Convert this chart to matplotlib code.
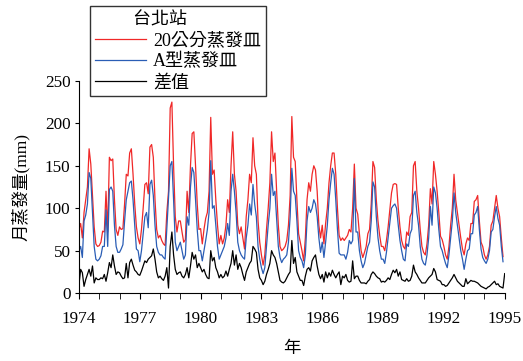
import numpy as np
import matplotlib
matplotlib.use("Agg")
import matplotlib.pyplot as plt

# monthly evaporation (mm), Jan 1974 .. Dec 1994, one row per year
pan20 = [
    75, 82, 65, 95, 110, 125, 170, 152, 115, 78, 58, 55,      # 1974
    56, 60, 73, 72, 120, 72, 160, 156, 158, 110, 75, 68,      # 1975
    78, 75, 76, 105, 140, 138, 165, 170, 140, 105, 78, 65,    # 1976
    58, 75, 100, 128, 130, 117, 172, 175, 160, 110, 75, 65,   # 1977
    68, 62, 58, 56, 95, 120, 218, 225, 150, 90, 72, 85,       # 1978
    85, 72, 60, 63, 120, 95, 150, 188, 190, 150, 105, 75,     # 1979
    76, 58, 75, 88, 95, 120, 207, 140, 145, 110, 80, 58,      # 1980
    68, 58, 65, 80, 110, 95, 150, 190, 140, 120, 80, 70,      # 1981
    78, 65, 52, 90, 110, 140, 130, 183, 150, 140, 85, 60,     # 1982
    45, 33, 45, 75, 100, 130, 190, 155, 165, 120, 80, 55,     # 1983
    50, 52, 55, 62, 80, 115, 208, 160, 155, 110, 70, 60,      # 1984
    50, 38, 65, 110, 130, 120, 140, 150, 145, 120, 80, 65,    # 1985
    80, 58, 82, 100, 130, 150, 165, 165, 140, 100, 68, 62,    # 1986
    65, 62, 65, 68, 75, 72, 100, 152, 100, 93, 70, 50,        # 1987
    42, 48, 55, 70, 75, 105, 155, 148, 110, 85, 68, 55,       # 1988
    55, 50, 62, 78, 98, 118, 128, 129, 128, 100, 78, 62,      # 1989
    55, 52, 72, 68, 90, 95, 150, 155, 120, 100, 75, 55,       # 1990
    48, 45, 58, 80, 123, 105, 155, 140, 120, 95, 67, 63,      # 1991
    55, 45, 40, 55, 80, 100, 140, 110, 95, 80, 65, 52,        # 1992
    45, 58, 65, 62, 82, 82, 108, 110, 115, 85, 60, 55,        # 1993
    45, 40, 45, 55, 80, 85, 100, 115, 100, 90, 65, 43,        # 1994
]

panA = [
    50, 55, 42, 85, 92, 105, 142, 135, 95, 55, 40, 38,
    40, 44, 55, 55, 98, 55, 122, 125, 120, 80, 55, 48,
    48, 52, 57, 85, 110, 120, 130, 132, 110, 80, 52, 50,
    37, 50, 70, 90, 95, 77, 128, 133, 115, 80, 55, 48,
    45, 45, 42, 40, 75, 112, 150, 155, 110, 60, 50, 55,
    60, 50, 40, 45, 90, 80, 125, 148, 142, 110, 75, 50,
    50, 38, 50, 62, 75, 95, 156, 100, 103, 80, 55, 40,
    45, 50, 55, 65, 82, 68, 120, 140, 120, 95, 60, 50,
    45, 42, 40, 65, 80, 105, 92, 128, 105, 90, 55, 40,
    30, 23, 30, 55, 80, 100, 140, 115, 120, 88, 55, 42,
    36, 40, 42, 45, 60, 90, 147, 120, 115, 85, 50, 42,
    38, 30, 45, 85, 102, 95, 100, 110, 105, 90, 65, 48,
    60, 42, 60, 80, 110, 130, 147, 140, 110, 75, 47, 45,
    45, 45, 40, 48, 62, 58, 62, 135, 72, 72, 50, 38,
    30, 35, 45, 55, 60, 85, 131, 125, 90, 65, 50, 40,
    40, 35, 48, 65, 82, 100, 103, 105, 100, 80, 62, 50,
    40, 38, 58, 55, 70, 75, 115, 120, 95, 80, 55, 40,
    35, 33, 45, 65, 102, 80, 125, 118, 100, 75, 55, 50,
    42, 35, 30, 45, 65, 85, 118, 95, 80, 65, 50, 40,
    28, 40, 50, 52, 70, 70, 92, 95, 102, 75, 52, 42,
    38, 35, 40, 50, 72, 75, 90, 102, 88, 80, 55, 37,
]

# difference series, Jan 1974 .. Jan 1995
diff = [
    10, 28, 24, 8, 16, 22, 28, 20, 32, 12, 18, 16,
    16, 18, 17, 22, 14, 24, 36, 30, 45, 32, 22, 25,
    24, 20, 17, 18, 35, 18, 36, 40, 33, 27, 25, 22,
    21, 26, 32, 38, 36, 40, 42, 44, 52, 40, 25, 18,
    20, 17, 15, 20, 30, 6, 55, 72, 45, 28, 22, 24,
    25, 20, 18, 22, 30, 18, 32, 48, 40, 45, 30, 35,
    30, 25, 28, 22, 18, 17, 50, 38, 42, 30, 25, 18,
    22, 18, 20, 26, 20, 28, 35, 50, 33, 45, 28, 35,
    30, 22, 15, 25, 30, 35, 38, 55, 52, 48, 28, 18,
    15, 10, 14, 22, 28, 35, 50, 45, 42, 35, 25, 15,
    13, 12, 14, 18, 22, 25, 62, 35, 42, 25, 20, 15,
    15, 9, 20, 28, 30, 26, 38, 42, 45, 32, 22, 17,
    22, 13, 25, 18, 24, 20, 27, 22, 18, 22, 25, 10,
    20, 18, 22, 15, 13, 14, 38, 17, 20, 20, 15, 12,
    12, 12, 11, 14, 16, 22, 25, 23, 20, 18, 17, 13,
    14, 13, 15, 18, 16, 22, 27, 24, 28, 20, 25, 16,
    15, 14, 17, 14, 15, 20, 33, 25, 22, 18, 15, 12,
    12, 12, 15, 18, 20, 22, 29, 25, 16, 15, 14, 10,
    10, 8, 9, 12, 15, 18, 22, 18, 14, 12, 10, 8,
    8, 17, 11, 13, 15, 14, 14, 13, 12, 10, 8, 7,
    6, 5, 7, 8, 10, 12, 14, 10, 11, 8, 7, 6,
    23,
]

labels = ["20公分蒸發皿", "A型蒸發皿", "差值"]
year_ticks = [1974, 1977, 1980, 1983, 1986, 1989, 1992, 1995]

plt.rcParams['font.family'] = ['Liberation Serif', 'Noto Sans CJK TC']

t = 1974 + np.arange(len(pan20)) / 12.0
t_diff = 1974 + np.arange(len(diff)) / 12.0

fig = plt.figure(figsize=(5.23, 3.61), dpi=100)
ax = fig.add_axes([0.151, 0.188, 0.814, 0.588])

ax.plot(t, pan20, color='#f02828', lw=0.9, label=labels[0])
ax.plot(t, panA, color='#2a5db5', lw=0.9, label=labels[1])
ax.plot(t_diff, diff, color='black', lw=0.9, label=labels[2])

ax.set_xlim(1974, 1995)
ax.set_ylim(0, 250)
ax.set_yticks(range(0, 251, 50))
ax.set_xticks(year_ticks)
ax.set_xticks(range(1974, 1996), minor=True)
ax.tick_params(axis='both', labelsize=12.3, direction='out', width=0.8)
ax.tick_params(axis='x', which='both', length=4, pad=9)
ax.tick_params(axis='y', length=3, pad=3)
for s in ['top', 'right']:
    ax.spines[s].set_visible(False)
for s in ['left', 'bottom']:
    ax.spines[s].set_linewidth(0.8)

ax.set_ylabel("月蒸發量(mm)", fontsize=12.5, labelpad=11)
ax.set_xlabel("年", fontsize=12.5, labelpad=10)

leg = fig.legend(loc='upper left', bbox_to_anchor=(90 / 523, 1 - 6 / 361),
                 title="台北站        ", title_fontsize=13, fontsize=13,
                 frameon=True, fancybox=False, edgecolor='black',
                 handlelength=2.8, handletextpad=0.4, labelspacing=0.22,
                 borderpad=0.28, borderaxespad=0)
leg.get_frame().set_linewidth(1.0)

fig.savefig("out.png", dpi=100)
